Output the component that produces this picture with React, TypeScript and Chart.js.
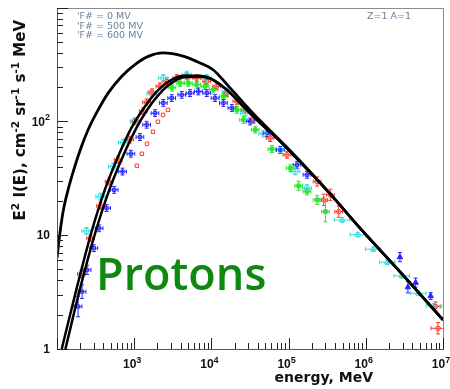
import React, { useEffect, useRef } from "react";
import { Chart, registerables } from "chart.js";

Chart.register(...registerables);

// ---------- model curves: E (MeV) and E^2 I(E) ----------
const phi0E = [100, 108.4, 119.7, 139, 170, 207.5, 253, 341, 459, 686, 1021, 1521, 2361, 4285, 7129, 10520, 15990, 25820, 42950, 71290, 105200, 354800, 853000, 2820000, 10000000];
const phi0V = [6.31, 10.1, 16.0, 25.0, 40.1, 60.1, 84.4, 126, 177, 248, 315, 372, 399, 374, 326, 284, 210, 146, 101, 71.7, 55.1, 22.6, 11.4, 4.71, 1.80];

const phi500E = [115.1, 180.3, 277.7, 416, 619, 924, 1377, 1858, 2636, 4325, 7129, 9616, 15850, 26070, 42900, 70630, 105200, 354800, 853000, 2820000, 10000000];
const phi500V = [1.0, 3.44, 10.48, 25.0, 49.1, 87.9, 135, 175, 218, 252, 252, 240, 190, 135, 96.6, 71.3, 54.0, 22.6, 11.4, 4.71, 1.80];

const phi600E = [128.5, 200, 313, 476, 713, 1074, 1552, 2032, 2742, 4325, 7129, 9616, 15850, 26070, 42900, 70630, 105200, 354800, 853000, 2820000, 10000000];
const phi600V = [1.0, 3.44, 10.48, 25.0, 49.1, 87.9, 133, 168, 206, 244, 247, 237, 188, 134, 96.3, 71.0, 54.0, 22.6, 11.4, 4.71, 1.80];

// ---------- measurements ----------
const redE = [207, 272, 366, 473, 620, 879, 1021, 1309, 1449, 1705, 2158, 2636, 3556, 4797, 6457, 8710, 11750, 15850, 21380, 27400, 35100, 57800, 95300, 234000, 285000, 348000, 446000, 8020000, 8610000];
const redV = [4.57, 9.42, 18.1, 29.6, 45.9, 68.9, 99.8, 123, 147, 180, 203, 224, 240, 248, 240, 224, 203, 177, 150, 126, 103, 71.3, 50.8, 29.6, 20.4, 22.6, 16.1, 2.36, 1.52];
const redErrX = [0.05, 0.05, 0.05, 0.05, 0.05, 0.05, 0.05, 0.05, 0.05, 0.05, 0.05, 0.05, 0.05, 0.05, 0.05, 0.05, 0.05, 0.05, 0.05, 0.05, 0.05, 0.05, 0.05, 0.05, 0.05, 0.05, 0.05, 0.06, 0.09];
const redErrY = [0.03, 0.03, 0.03, 0.03, 0.03, 0.03, 0.03, 0.03, 0.03, 0.03, 0.03, 0.03, 0.03, 0.03, 0.03, 0.03, 0.03, 0.03, 0.03, 0.03, 0.03, 0.03, 0.03, 0.04, 0.05, 0.05, 0.05, 0.04, 0.05];

const redSqE = [1084, 1259, 1462, 1750, 2032, 2360, 2741];
const redSqV = [40.7, 51.9, 63.5, 81.0, 99.2, 114, 126];

const blueE = [187.5, 211, 245, 300, 351, 439, 550, 706, 906, 1186, 1449, 1858, 2382, 3062, 4130, 5280, 6780, 8710, 11170, 14320, 18400, 31800, 52400, 78000, 128500, 173000];
const blueV = [2.36, 3.19, 4.95, 7.69, 11.5, 17.3, 25.0, 36.2, 51.9, 72.8, 93.3, 118, 145, 160, 171, 177, 183, 177, 160, 145, 131, 99.7, 78.9, 56.2, 41.5, 33.9];
const blueErrY = [0.09, 0.06, 0.04, 0.03, 0.03, 0.03, 0.03, 0.03, 0.03, 0.03, 0.03, 0.03, 0.03, 0.03, 0.03, 0.03, 0.03, 0.03, 0.03, 0.03, 0.03, 0.03, 0.03, 0.03, 0.03, 0.03];

const cyanE = [241, 366, 533, 720, 1021, 1683, 2382, 4797, 8710, 15850, 27400, 47300, 78000, 122000, 173000];
const cyanV = [10.9, 21.8, 40.1, 65.2, 99.8, 175, 240, 257, 240, 183, 118, 78, 56, 36.3, 25.9];

const greenE = [3083, 3926, 5020, 6457, 8280, 10620, 14320, 21380, 26100, 37000, 60800, 105200, 135000, 173000, 234000, 300000];
const greenV = [198, 217, 217, 210, 203, 190, 166, 126, 103, 84.4, 57.1, 38.8, 27.1, 24.2, 20.4, 16.1];
const greenErrY = [0.03, 0.03, 0.03, 0.03, 0.03, 0.03, 0.03, 0.03, 0.03, 0.03, 0.03, 0.03, 0.04, 0.03, 0.04, 0.09];

const cyanTriE = [493000, 787000, 1250000, 1900000, 2910000, 4800000, 7640000];
const cyanTriV = [13.6, 10.1, 7.53, 5.79, 4.39, 3.09, 2.39];

const blueTriE = [2770000, 3510000, 4420000, 6920000];
const blueTriV = [6.41, 3.49, 3.83, 2.92];
const blueTriErrY = [0.04, 0.05, 0.04, 0.03];

// ---------- labels ----------
const xTickExps = [3, 4, 5, 6, 7];
const yTickLabels: [number, string, string][] = [[1, "1", ""], [10, "10", ""], [100, "10", "2"]];
const legendLines = ["'F# = 0 MV", "'F# = 500 MV", "'F# = 600 MV"];
const tagText = "Z=1 A=1";
const bigLabel = "Protons";
const xTitle = "energy, MeV";
const yTitleParts: [string, boolean][] = [["E", false], ["2", true], [" I(E), cm", false], ["-2", true], [" sr", false], ["-1", true], [" s", false], ["-1", true], [" MeV", false]];

const pts = (E: number[], V: number[]) => E.map((x, i) => ({ x, y: V[i] }));

type Part = [string, boolean];
function drawRich(ctx: CanvasRenderingContext2D, parts: Part[], x: number, y: number, size: number, family: string, weight: string, align: "left" | "right" | "center", supScale = 0.75, raise = 0.43) {
  const fBase = `${weight} ${size}px ${family}`;
  const fSup = `${weight} ${Math.round(size * supScale * 10) / 10}px ${family}`;
  let total = 0;
  const widths = parts.map(([t, s]) => {
    ctx.font = s ? fSup : fBase;
    const w = ctx.measureText(t).width;
    total += w;
    return w;
  });
  let cx = align === "left" ? x : align === "right" ? x - total : x - total / 2;
  ctx.textAlign = "left";
  ctx.textBaseline = "alphabetic";
  parts.forEach(([t, s], i) => {
    ctx.font = s ? fSup : fBase;
    ctx.fillText(t, cx, s ? y - size * raise : y);
    cx += widths[i];
  });
}

const decor = {
  id: "decor",
  beforeDatasetsDraw(chart: any) {
    const ctx: CanvasRenderingContext2D = chart.ctx;
    const xs = chart.scales.x;
    const ys = chart.scales.y;
    const ca = chart.chartArea;
    ctx.save();
    ctx.beginPath();
    ctx.rect(ca.left, ca.top, ca.right - ca.left, ca.bottom - ca.top);
    ctx.clip();
    chart.data.datasets.forEach((ds: any) => {
      if (!ds.err) return;
      ctx.strokeStyle = ds.borderColor;
      ctx.lineWidth = 1;
      ds.data.forEach((p: any, i: number) => {
        const ex = Array.isArray(ds.err.x) ? ds.err.x[i] : ds.err.x;
        const ey = Array.isArray(ds.err.y) ? ds.err.y[i] : ds.err.y;
        const px = xs.getPixelForValue(p.x);
        const py = ys.getPixelForValue(p.y);
        ctx.beginPath();
        if (ex > 0) {
          const x1 = xs.getPixelForValue(p.x * Math.pow(10, -ex));
          const x2 = xs.getPixelForValue(p.x * Math.pow(10, ex));
          ctx.moveTo(x1, py); ctx.lineTo(x2, py);
          ctx.moveTo(x1, py - 2); ctx.lineTo(x1, py + 2);
          ctx.moveTo(x2, py - 2); ctx.lineTo(x2, py + 2);
        }
        if (ey > 0) {
          const y1 = ys.getPixelForValue(p.y * Math.pow(10, -ey));
          const y2 = ys.getPixelForValue(p.y * Math.pow(10, ey));
          ctx.moveTo(px, y1); ctx.lineTo(px, y2);
          ctx.moveTo(px - 2, y1); ctx.lineTo(px + 2, y1);
          ctx.moveTo(px - 2, y2); ctx.lineTo(px + 2, y2);
        }
        ctx.stroke();
      });
    });
    ctx.restore();
  },
  afterDraw(chart: any) {
    const ctx: CanvasRenderingContext2D = chart.ctx;
    const xs = chart.scales.x;
    const ys = chart.scales.y;
    const ca = chart.chartArea;
    const L = Math.round(ca.left), R = Math.round(ca.right), T = Math.round(ca.top), B = Math.round(ca.bottom);
    ctx.save();
    // frame
    ctx.strokeStyle = "#8c8c8c";
    ctx.lineWidth = 1;
    ctx.strokeRect(L + 0.5, T + 0.5, R - L, B - T);
    ctx.strokeStyle = "#555";
    ctx.beginPath();
    ctx.moveTo(L + 0.5, T); ctx.lineTo(L + 0.5, B + 1);
    ctx.moveTo(L, B + 0.5); ctx.lineTo(R + 1, B + 0.5);
    ctx.stroke();
    // ticks
    ctx.strokeStyle = "#222";
    ctx.beginPath();
    const xmin = xs.min, xmax = xs.max;
    for (let d = Math.round(Math.log10(xmin)); d <= Math.round(Math.log10(xmax)); d++) {
      for (let k = 1; k <= 9; k++) {
        const v = k * Math.pow(10, d);
        if (v < xmin * 0.999 || v > xmax * 1.001) continue;
        const px = Math.round(xs.getPixelForValue(v)) + 0.5;
        const len = k === 1 ? 11 : 6;
        ctx.moveTo(px, B); ctx.lineTo(px, B - len);
      }
    }
    const ymin = ys.min, ymax = ys.max;
    for (let d = Math.round(Math.log10(ymin)); d <= Math.round(Math.log10(ymax)); d++) {
      for (let k = 1; k <= 9; k++) {
        const v = k * Math.pow(10, d);
        if (v < ymin * 0.999 || v > ymax * 1.001) continue;
        const py = Math.round(ys.getPixelForValue(v)) + 0.5;
        const len = k === 1 ? 11 : 6;
        ctx.moveTo(L, py); ctx.lineTo(L + len, py);
      }
    }
    ctx.stroke();

    // tick labels
    ctx.fillStyle = "#111";
    const lf = '"Liberation Sans", Arial, sans-serif';
    xTickExps.forEach((n) => {
      const px = xs.getPixelForValue(Math.pow(10, n));
      drawRich(ctx, [["10", false], [String(n), true]], px - 2, 368, 12, lf, "bold", "center");
    });
    yTickLabels.forEach(([v, base, sup]) => {
      const py = ys.getPixelForValue(v);
      const parts: Part[] = sup ? [[base, false], [sup, true]] : [[base, false]];
      drawRich(ctx, parts, 50, py + 4.3, 12, lf, "bold", "right");
    });

    // axis titles
    const df = '"DejaVu Sans", sans-serif';
    drawRich(ctx, [[xTitle, false]], 373, 382, 14, df, "bold", "right");
    ctx.save();
    ctx.translate(25, 20);
    ctx.rotate(-Math.PI / 2);
    drawRich(ctx, yTitleParts, 0, 0, 15, df, "bold", "right", 0.7, 0.42);
    ctx.restore();

    // legend texts
    ctx.fillStyle = "#6a819c";
    ctx.font = '9.5px "DejaVu Sans", sans-serif';
    ctx.textAlign = "left";
    ctx.textBaseline = "alphabetic";
    legendLines.forEach((t, i) => ctx.fillText(t, 77, 19 + i * 9.6));
    ctx.fillText(tagText, 367, 19);

    // big label
    ctx.fillStyle = "#0f880f";
    ctx.font = '600 45px "Open Sans", sans-serif';
    ctx.fillText(bigLabel, 96, 290);
    ctx.restore();
  },
};

const RED = "#ff3a2a";
const BLUE = "#2525ff";
const CYAN = "#2ee0e0";
const GREEN = "#2ee82e";

export default function App() {
  const ref = useRef<HTMLCanvasElement | null>(null);
  useEffect(() => {
    if (!ref.current) return;
    const curve = (E: number[], V: number[], w: number) => ({
      data: pts(E, V),
      showLine: true,
      borderColor: "#000",
      backgroundColor: "#000",
      borderWidth: w,
      pointRadius: 0,
      cubicInterpolationMode: "monotone",
      fill: false,
    });
    const marks = (E: number[], V: number[], color: string, style: string, r: number, filled: boolean, err?: any) => ({
      data: pts(E, V),
      showLine: false,
      pointStyle: style,
      pointRadius: r,
      borderColor: color,
      backgroundColor: filled ? color : "rgba(0,0,0,0)",
      pointBorderWidth: 1,
      err,
    });
    const chart = new Chart(ref.current, {
      type: "scatter",
      data: {
        datasets: [
          curve(phi0E, phi0V, 2.8),
          curve(phi500E, phi500V, 2.5),
          curve(phi600E, phi600V, 2.5),
          marks(blueTriE, blueTriV, BLUE, "triangle", 3.2, true, { x: 0, y: blueTriErrY }),
          marks(redE, redV, RED, "circle", 2.3, false, { x: redErrX, y: redErrY }),
          marks(redSqE, redSqV, RED, "rect", 2.4, false),
          marks(cyanE, cyanV, CYAN, "circle", 2.8, false, { x: 0.06, y: 0.03 }),
          marks(cyanTriE, cyanTriV, CYAN, "triangle", 3.2, false, { x: 0.1, y: 0.02 }),
          marks(greenE, greenV, GREEN, "circle", 2.3, true, { x: 0.05, y: greenErrY }),
          marks(blueE, blueV, BLUE, "rect", 2.3, false, { x: 0.05, y: blueErrY }),
        ] as any,
      },
      options: {
        animation: false,
        responsive: false,
        devicePixelRatio: 1,
        events: [],
        layout: { padding: { left: 57, right: 7, top: 7.5, bottom: 40 } },
        plugins: { legend: { display: false }, tooltip: { enabled: false } },
        scales: {
          x: { type: "logarithmic", min: 100, max: 1e7, display: false },
          y: { type: "logarithmic", min: 1, max: 1000, display: false },
        },
      } as any,
      plugins: [decor as any],
    });
    return () => chart.destroy();
  }, []);
  return (
    <div style={{ position: "fixed", left: 0, top: 0, width: 450, height: 389, background: "#fff" }}>
      <canvas ref={ref} width={450} height={389} style={{ width: 450, height: 389, display: "block" }} />
    </div>
  );
}
